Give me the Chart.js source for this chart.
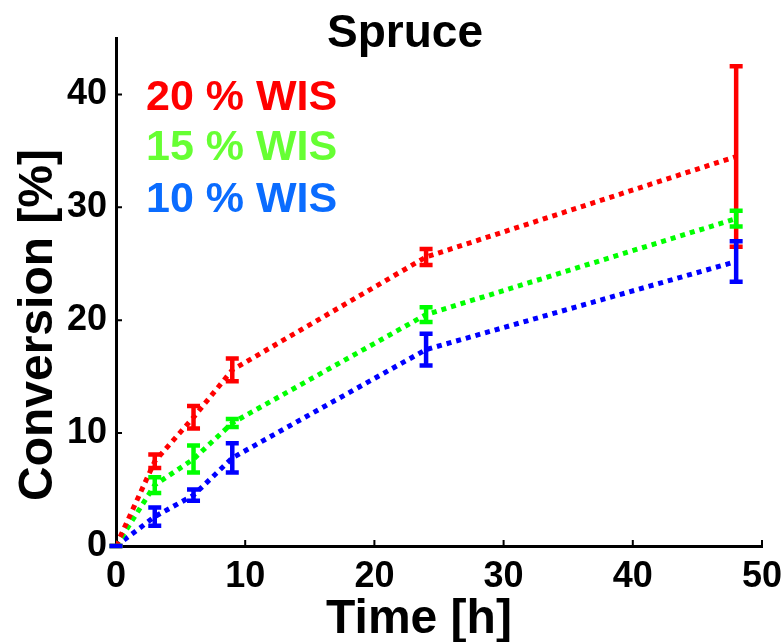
<!DOCTYPE html>
<html lang="en">
<head>
<meta charset="UTF-8">
<title>Spruce</title>
<style>
  body { margin: 0; background: #fff; }
  #wrap { width: 784px; height: 642px; }
</style>
</head>
<body>
<div id="wrap"><canvas id="myChart" width="784" height="642"></canvas></div>

<script src="https://cdn.jsdelivr.net/npm/chart.js"></script>
<script>
  // sampling times [h]
  const v_times = [0, 3, 6, 9, 24, 48];

  // mean conversion [%] and +/- error for each solids loading
  const v_wis20 = [0, 7.5, 11.4, 15.6, 25.6, 34.5];
  const v_wis20Err = [0, 0.6, 1.0, 1.0, 0.7, 8.0];
  const v_wis15 = [0, 5.4, 7.7, 10.9, 20.5, 29.0];
  const v_wis15Err = [0, 0.7, 1.2, 0.35, 0.65, 0.7];
  const v_wis10 = [0, 2.6, 4.5, 7.8, 17.4, 25.2];
  const v_wis10Err = [0, 0.8, 0.5, 1.3, 1.4, 1.8];

  const v_labels = ['20 % WIS', '15 % WIS', '10 % WIS'];
  const v_xTicks = [0, 10, 20, 30, 40, 50];
  const v_yTicks = [0, 10, 20, 30, 40];

  const FONT = '"Liberation Sans", Arial, sans-serif';

  function toPoints(ys) {
    return v_times.map((t, i) => ({ x: t, y: ys[i] }));
  }

  // vertical error bars with flat caps
  const errorBars = {
    id: 'errorBars',
    afterDatasetsDraw(chart) {
      const c = chart.ctx;
      const xs = chart.scales.x, ys = chart.scales.y;
      chart.data.datasets.forEach(ds => {
        c.save();
        c.strokeStyle = ds.borderColor;
        c.lineCap = 'butt';
        c.lineWidth = 4.5;
        ds.data.forEach((p, j) => {
          const e = ds.errors[j];
          const x = xs.getPixelForValue(p.x);
          const yTop = ys.getPixelForValue(p.y + e);
          const yBot = ys.getPixelForValue(p.y - e);
          c.beginPath();
          c.moveTo(x, yTop); c.lineTo(x, yBot);
          c.moveTo(x - 6.5, yTop); c.lineTo(x + 6.5, yTop);
          c.moveTo(x - 6.5, yBot); c.lineTo(x + 6.5, yBot);
          c.stroke();
        });
        c.restore();
      });
    }
  };

  // inward tick marks, title, axis titles and in-plot legend text
  const decorations = {
    id: 'decorations',
    afterDraw(chart) {
      const c = chart.ctx;
      const xs = chart.scales.x, ys = chart.scales.y;
      const area = chart.chartArea;
      c.save();
      c.strokeStyle = '#000';
      c.lineWidth = 2;
      c.beginPath();
      v_xTicks.slice(1).forEach(v => {
        const x = xs.getPixelForValue(v);
        c.moveTo(x, area.bottom); c.lineTo(x, area.bottom - 6);
      });
      v_yTicks.slice(1).forEach(v => {
        const y = ys.getPixelForValue(v);
        c.moveTo(area.left, y); c.lineTo(area.left + 6, y);
      });
      c.stroke();

      c.fillStyle = '#000';
      c.textAlign = 'center';
      c.textBaseline = 'alphabetic';
      c.font = 'bold 46px ' + FONT;
      c.fillText('Spruce', 405, 47);

      c.font = 'bold 48px ' + FONT;
      c.fillText('Time [h]', 419, 633);

      c.save();
      c.translate(52, 325);
      c.rotate(-Math.PI / 2);
      c.font = 'bold 48px ' + FONT;
      c.fillText('Conversion [%]', 0, 0);
      c.restore();

      const legendColors = ['#ff0000', '#66ff33', '#0a6cff'];
      const baselines = [110, 160, 212];
      c.textAlign = 'left';
      c.font = 'bold 43px ' + FONT;
      v_labels.forEach((t, i) => {
        c.fillStyle = legendColors[i];
        c.fillText(t, 146, baselines[i]);
      });
      c.restore();
    }
  };

  const ctx = document.getElementById('myChart');

  new Chart(ctx, {
    type: 'line',
    data: {
      datasets: [{
        label: v_labels[0],
        data: toPoints(v_wis20),
        errors: v_wis20Err,
        borderColor: '#ff0000'
      }, {
        label: v_labels[1],
        data: toPoints(v_wis15),
        errors: v_wis15Err,
        borderColor: '#00ff00'
      }, {
        label: v_labels[2],
        data: toPoints(v_wis10),
        errors: v_wis10Err,
        borderColor: '#0000ff'
      }]
    },
    options: {
      responsive: false,
      animation: false,
      layout: { padding: { top: 38, right: 22, left: 0, bottom: 0 } },
      plugins: {
        legend: { display: false },
        title: { display: false },
        tooltip: { enabled: false }
      },
      elements: {
        point: { radius: 0 },
        line: { tension: 0, borderWidth: 5, borderDash: [5, 5], borderCapStyle: 'butt' }
      },
      scales: {
        x: {
          type: 'linear',
          min: 0,
          max: 50,
          grid: { display: false, drawTicks: false },
          border: { display: true, color: '#000', width: 3 },
          ticks: {
            color: '#000',
            padding: 9,
            maxRotation: 0,
            font: { family: FONT, size: 36, weight: 'bold' }
          },
          afterBuildTicks: s => { s.ticks = v_xTicks.map(v => ({ value: v })); },
          afterFit: s => { s.height = 96; s.paddingLeft = 0; s.paddingRight = 0; }
        },
        y: {
          min: 0,
          max: 45,
          grid: { display: false, drawTicks: false },
          border: { display: true, color: '#000', width: 3 },
          ticks: {
            color: '#000',
            padding: 9,
            includeBounds: false,
            font: { family: FONT, size: 36, weight: 'bold' }
          },
          afterBuildTicks: s => { s.ticks = v_yTicks.map(v => ({ value: v })); },
          afterFit: s => { s.width = 116; s.paddingTop = 0; s.paddingBottom = 0; }
        }
      }
    },
    plugins: [errorBars, decorations]
  });
</script>
</body>
</html>
